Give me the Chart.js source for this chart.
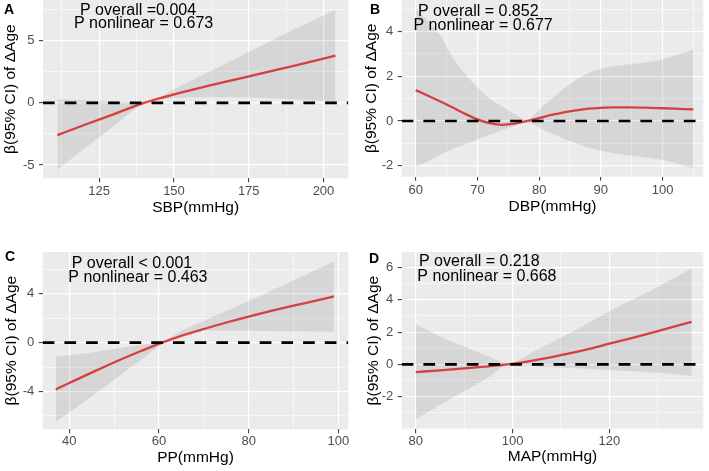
<!DOCTYPE html>
<html>
<head>
<meta charset="utf-8">
<script src="https://cdn.jsdelivr.net/npm/chart.js@4.4.1/dist/chart.umd.min.js"></script>
<style>
  html, body { margin: 0; padding: 0; background: #ffffff; }
  body { width: 709px; height: 471px; position: relative; overflow: hidden; }
  canvas { position: absolute; }
</style>
</head>
<body>
<canvas id="pA" width="354" height="235" style="left:0px;top:0px;width:354px;height:235px"></canvas>
<canvas id="pB" width="355" height="235" style="left:354px;top:0px;width:355px;height:235px"></canvas>
<canvas id="pC" width="354" height="236" style="left:0px;top:235px;width:354px;height:236px"></canvas>
<canvas id="pD" width="355" height="236" style="left:354px;top:235px;width:355px;height:236px"></canvas>
<script>
// ---------------- DATA ----------------
// Panel A: SBP
const sbpX   = [111, 120, 130, 140, 150, 160, 170, 180, 190, 204];
const sbpFit = [-2.6, -1.78, -0.9, 0.0, 0.68, 1.28, 1.85, 2.42, 2.98, 3.8];
const sbpLo  = [-5.4, -3.7, -1.85, -0.05, 0.38, 0.45, 0.45, 0.4, 0.3, 0.08];
const sbpHi  = [0.3, 0.22, 0.12, 0.05, 1.1, 2.3, 3.5, 4.7, 5.9, 7.5];
const sbpXTicks = [125, 150, 175, 200];
const sbpYTicks = [-5, 0, 5];

// Panel B: DBP
const dbpX   = [60, 62, 64, 66, 68, 70, 72, 74, 76, 78, 80, 82, 84, 86, 88, 90, 92, 95, 98, 100, 102, 105];
const dbpFit = [1.38, 1.13, 0.87, 0.6, 0.32, 0.07, -0.1, -0.17, -0.12, -0.01, 0.13, 0.27, 0.39, 0.48, 0.55, 0.59, 0.61, 0.61, 0.59, 0.57, 0.55, 0.52];
const dbpLo  = [-2.05, -1.8, -1.5, -1.25, -1.05, -0.83, -0.62, -0.4, -0.22, -0.05, -0.3, -0.55, -0.8, -1.0, -1.2, -1.33, -1.43, -1.55, -1.65, -1.74, -1.88, -2.12];
const dbpHi  = [5.05, 4.45, 3.8, 2.85, 2.1, 1.5, 1.0, 0.65, 0.32, 0.05, 0.5, 1.0, 1.45, 1.85, 2.15, 2.35, 2.45, 2.55, 2.65, 2.75, 2.92, 3.2];
const dbpXTicks = [60, 70, 80, 90, 100];
const dbpYTicks = [-2, 0, 2, 4];

// Panel C: PP
const ppX   = [37, 45, 52, 56, 61, 65, 70, 75, 80, 85, 90, 95, 99];
const ppFit = [-3.83, -2.45, -1.3, -0.68, 0.05, 0.56, 1.12, 1.65, 2.14, 2.6, 3.03, 3.44, 3.78];
const ppLo  = [-6.5, -4.4, -2.5, -1.42, -0.05, 0.55, 0.98, 1.0, 0.98, 0.95, 0.93, 0.92, 0.9];
const ppHi  = [-1.15, -0.8, -0.4, -0.17, 0.12, 0.95, 1.8, 2.6, 3.4, 4.25, 5.1, 5.95, 6.66];
const ppXTicks = [40, 60, 80, 100];
const ppYTicks = [-4, 0, 4];

// Panel D: MAP
const mapX   = [80, 85, 90, 95, 99, 105, 110, 115, 120, 125, 130, 137];
const mapFit = [-0.48, -0.37, -0.25, -0.12, 0.0, 0.28, 0.57, 0.9, 1.28, 1.66, 2.06, 2.64];
const mapLo  = [-3.43, -2.5, -1.68, -0.8, -0.05, -0.12, -0.2, -0.27, -0.35, -0.43, -0.52, -0.73];
const mapHi  = [2.49, 1.75, 1.1, 0.5, 0.05, 0.9, 1.65, 2.45, 3.3, 4.05, 4.8, 5.96];
const mapXTicks = [80, 100, 120];
const mapYTicks = [-2, 0, 2, 4, 6];

const panelLetters = ['A', 'B', 'C', 'D'];
const xTitles = ['SBP(mmHg)', 'DBP(mmHg)', 'PP(mmHg)', 'MAP(mmHg)'];
const yTitle = 'β(95% CI) of ΔAge';
const pOverall = ['P overall =0.004', 'P overall = 0.852', 'P overall < 0.001', 'P overall = 0.218'];
const pNonlinear = ['P nonlinear = 0.673', 'P nonlinear = 0.677', 'P nonlinear = 0.463', 'P nonlinear = 0.668'];

// ---------------- STYLE / LAYOUT ----------------
const FONT = "'Liberation Sans', Arial, sans-serif";
const RED = '#EB4545';
const BAND = 'rgba(0,0,0,0.085)';
const PANEL_BG = '#EBEBEB';

function withMinors(majors, min, max) {
  const step = majors[1] - majors[0];
  const all = [];
  const start = majors[0] - step;
  const end = majors[majors.length - 1] + step;
  for (let v = start; v <= end + 1e-9; v += step / 2) {
    const isMajor = majors.some(m => Math.abs(m - v) < 1e-9);
    if (v >= min && v <= max) all.push({ value: v, minor: !isMajor });
  }
  return all;
}

function pts(xs, ys) { return xs.map((x, i) => ({ x: x, y: ys[i] })); }

const bgPlugin = {
  id: 'panelBg',
  beforeDraw(chart) {
    const a = chart.chartArea, ctx = chart.ctx;
    ctx.save();
    ctx.fillStyle = PANEL_BG;
    ctx.fillRect(a.left, a.top, a.right - a.left, a.bottom - a.top);
    ctx.restore();
  },
  afterDatasetsDraw(chart) {
    const a = chart.chartArea, ctx = chart.ctx;
    const y0 = chart.scales.y.getPixelForValue(0);
    ctx.save();
    ctx.beginPath();
    ctx.rect(a.left, a.top, a.right - a.left, a.bottom - a.top);
    ctx.clip();
    ctx.strokeStyle = '#000000';
    ctx.lineWidth = 2.6;
    ctx.setLineDash([11.7, 10]);
    ctx.beginPath();
    ctx.moveTo(a.left, y0);
    ctx.lineTo(a.right, y0);
    ctx.stroke();
    ctx.restore();
  },
  afterDraw(chart) {
    const o = chart.options.plugins.panelBg;
    const ctx = chart.ctx;
    ctx.save();
    ctx.textBaseline = 'middle';
    ctx.textAlign = 'left';
    ctx.fillStyle = '#000000';
    ctx.font = 'bold 14px ' + FONT;
    ctx.fillText(o.letter, o.letterX, o.letterY);
    ctx.font = '16px ' + FONT;
    ctx.fillText(o.line1, o.l1x, o.l1y);
    ctx.fillText(o.line2, o.l2x, o.l2y);
    ctx.restore();
  }
};

function makePanel(id, p) {
  const xTicksAll = withMinors(p.xTicks, p.xMin, p.xMax);
  const yTicksAll = withMinors(p.yTicks, p.yMin, p.yMax);
  const gridCommon = () => ({
    color: (c) => (c.tick && c.tick.minor) ? 'rgba(255,255,255,0.9)' : '#ffffff',
    lineWidth: (c) => (c.tick && c.tick.minor) ? 0.6 : 1.2,
    tickColor: (c) => (c.tick && c.tick.minor) ? 'rgba(0,0,0,0)' : '#333333',
    tickWidth: 1,
    tickLength: 4,
    drawTicks: true,
    drawOnChartArea: true
  });
  const labelCb = function (value, index, ticks) {
    return ticks[index].minor ? '' : String(value);
  };
  return new Chart(document.getElementById(id), {
    type: 'line',
    data: {
      datasets: [
        { data: pts(p.x, p.lo), borderWidth: 0, pointRadius: 0, fill: false, borderColor: 'rgba(0,0,0,0)', cubicInterpolationMode: 'monotone' },
        { data: pts(p.x, p.hi), borderWidth: 0, pointRadius: 0, fill: '-1', backgroundColor: BAND, borderColor: 'rgba(0,0,0,0)', cubicInterpolationMode: 'monotone' },
        { data: pts(p.x, p.fit), borderWidth: 2.3, pointRadius: 0, fill: false, borderColor: RED, cubicInterpolationMode: 'monotone' }
      ]
    },
    options: {
      responsive: false,
      animation: false,
      devicePixelRatio: 1,
      layout: { padding: { left: 0, top: p.padTop, right: p.padRight, bottom: 0 } },
      plugins: {
        legend: { display: false },
        tooltip: { enabled: false },
        panelBg: p.text
      },
      scales: {
        x: {
          type: 'linear', min: p.xMin, max: p.xMax,
          afterBuildTicks: (s) => { s.ticks = xTicksAll.map(t => ({ value: t.value, minor: t.minor })); },
          afterFit: (s) => { s.height = p.xHeight; s.paddingLeft = 0; s.paddingRight = 0; s.paddingTop = 0; s.paddingBottom = 0; },
          grid: gridCommon(),
          border: { display: false },
          ticks: { callback: labelCb, autoSkip: false, maxRotation: 0, color: '#4D4D4D', padding: p.xTickPad,
                   font: { family: FONT, size: 13, lineHeight: 1 } },
          title: { display: true, text: p.xTitle, color: '#000000',
                   font: { family: FONT, size: 15.5, lineHeight: 1 },
                   padding: { top: 0, bottom: p.xTitlePad } }
        },
        y: {
          type: 'linear', min: p.yMin, max: p.yMax,
          afterBuildTicks: (s) => { s.ticks = yTicksAll.map(t => ({ value: t.value, minor: t.minor })); },
          afterFit: (s) => { s.width = p.yWidth; s.paddingLeft = 0; s.paddingRight = 0; s.paddingTop = 0; s.paddingBottom = 0; },
          grid: gridCommon(),
          border: { display: false },
          ticks: { callback: labelCb, autoSkip: false, color: '#4D4D4D', padding: 4.5,
                   font: { family: FONT, size: 13, lineHeight: 1 } },
          title: { display: true, text: yTitle, color: '#000000',
                   font: { family: FONT, size: 15.5, lineHeight: 1 },
                   padding: { top: p.yTitlePad, bottom: 0 } }
        }
      }
    },
    plugins: [bgPlugin]
  });
}

makePanel('pA', {
  x: sbpX, fit: sbpFit, lo: sbpLo, hi: sbpHi, xTicks: sbpXTicks, yTicks: sbpYTicks,
  xMin: 106.2, xMax: 208.3, yMin: -6.07, yMax: 8.28,
  padTop: 0, padRight: 5.7, yWidth: 43, xHeight: 56.7, xTickPad: 3, xTitlePad: 19.5, yTitlePad: 3,
  xTitle: xTitles[0],
  text: { letter: panelLetters[0], letterX: 4, letterY: 10, line1: pOverall[0], l1x: 80, l1y: 11, line2: pNonlinear[0], l2x: 74, l2y: 24 }
});
makePanel('pB', {
  x: dbpX, fit: dbpFit, lo: dbpLo, hi: dbpHi, xTicks: dbpXTicks, yTicks: dbpYTicks,
  xMin: 57.73, xMax: 106.6, yMin: -2.49, yMax: 5.41,
  padTop: 0, padRight: 5.7, yWidth: 47.7, xHeight: 58.3, xTickPad: 3, xTitlePad: 20.3, yTitlePad: 9.5,
  xTitle: xTitles[1],
  text: { letter: panelLetters[1], letterX: 16, letterY: 10, line1: pOverall[1], l1x: 64, l1y: 11.5, line2: pNonlinear[1], l2x: 59.5, l2y: 25.3 }
});
makePanel('pC', {
  x: ppX, fit: ppFit, lo: ppLo, hi: ppHi, xTicks: ppXTicks, yTicks: ppYTicks,
  xMin: 34.1, xMax: 102.2, yMin: -7.09, yMax: 7.42,
  padTop: 17, padRight: 5.7, yWidth: 42.7, xHeight: 41.7, xTickPad: 1.5, xTitlePad: 5.5, yTitlePad: 3.5,
  xTitle: xTitles[2],
  text: { letter: panelLetters[2], letterX: 5, letterY: 22.5, line1: pOverall[2], l1x: 71.7, l1y: 29, line2: pNonlinear[2], l2x: 68.3, l2y: 42.5 }
});
makePanel('pD', {
  x: mapX, fit: mapFit, lo: mapLo, hi: mapHi, xTicks: mapXTicks, yTicks: mapYTicks,
  xMin: 77.1, xMax: 139.4, yMin: -4.03, yMax: 6.97,
  padTop: 17, padRight: 5.7, yWidth: 47.7, xHeight: 41.7, xTickPad: 1.5, xTitlePad: 6.3, yTitlePad: 11.5,
  xTitle: xTitles[3],
  text: { letter: panelLetters[3], letterX: 15, letterY: 24.5, line1: pOverall[3], l1x: 65, l1y: 26.3, line2: pNonlinear[3], l2x: 63.3, l2y: 41.5 }
});
</script>
</body>
</html>
